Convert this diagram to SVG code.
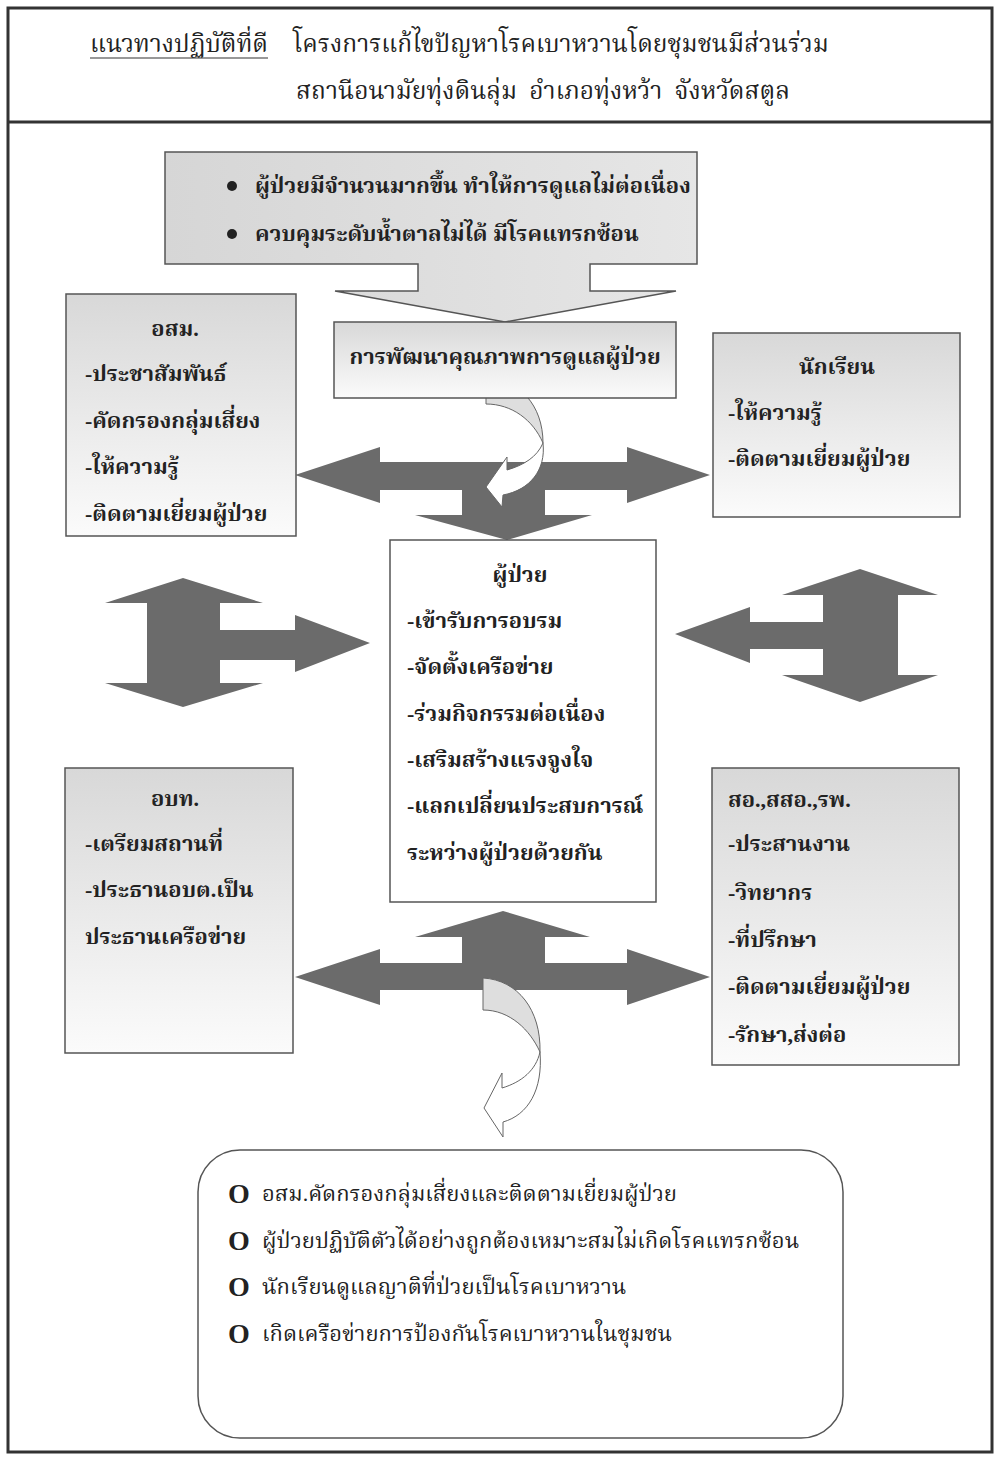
<svg xmlns="http://www.w3.org/2000/svg" width="1000" height="1461" viewBox="0 0 1000 1461">
  <style>
    .frame { fill: none; stroke: #333; stroke-width: 3; }
    .box { stroke: #555; stroke-width: 1.5; }
    .big { fill: #6b6b6b; }
    .curl-back { fill: #dedede; stroke: #666; stroke-width: 1; }
    .curl-front { fill: #ffffff; stroke: #666; stroke-width: 1; }
    text { font-family: "Liberation Serif", "Noto Serif Thai", "Noto Sans Thai", Garuda, serif; fill: #222; }
    .hd { font-size: 24.5px; }
    .b { font-size: 22px; font-weight: bold; }
    .r { font-size: 22px; }
    .mid { text-anchor: middle; }
    .oo { font-size: 28px; font-weight: bold; }
  </style>
  <defs>
    <linearGradient id="gTop" x1="0" y1="0" x2="1" y2="0">
      <stop offset="0" stop-color="#d6d6d6"/>
      <stop offset="1" stop-color="#e6e6e6"/>
    </linearGradient>
    <linearGradient id="gSide" x1="0" y1="0" x2="0" y2="1">
      <stop offset="0" stop-color="#d8d8d8"/>
      <stop offset="1" stop-color="#fbfbfb"/>
    </linearGradient>
  </defs>

  <rect width="1000" height="1461" fill="#ffffff"/>

  <!-- page frame and title band -->
  <rect class="frame" x="8" y="8" width="984" height="1444"/>
  <line class="frame" x1="8" y1="122" x2="992" y2="122"/>

  <g id="title">
    <text class="hd" x="90" y="52">แนวทางปฏิบัติที่ดี</text>
    <line x1="90" y1="58" x2="268" y2="58" stroke="#333" stroke-width="1.2"/>
    <text class="hd" x="293" y="52">โครงการแก้ไขปัญหาโรคเบาหวานโดยชุมชนมีส่วนร่วม</text>
    <text class="hd" x="296" y="99" xml:space="preserve">สถานีอนามัยทุ่งดินลุ่ม  อำเภอทุ่งหว้า  จังหวัดสตูล</text>
  </g>

  <!-- connectors: block arrows and curled arrows -->
  <g id="connectors">
    <!-- upper cross arrow -->
    <path class="big" d="M295,475 L380,447 L380,462 L627,462 L627,447 L710,475 L627,503 L627,490 L545,490 L545,515 L592,515 L507,540 L415,515 L462,515 L462,490 L380,490 L380,503 Z"/>
    <!-- left side arrow -->
    <path class="big" d="M183,578 L263,603 L220,603 L220,630 L295,630 L295,615 L370,643 L295,672 L295,660 L220,660 L220,683 L263,683 L183,707 L105,683 L147,683 L147,603 L105,603 Z"/>
    <!-- right side arrow -->
    <path class="big" d="M860,569 L938,595 L898,595 L898,675 L938,675 L860,702 L782,675 L823,675 L823,649 L750,649 L750,663 L675,634 L750,607 L750,622 L823,622 L823,595 L782,595 Z"/>
    <!-- lower cross arrow -->
    <path class="big" d="M295,977 L380,949 L380,963 L462,963 L462,937 L415,937 L503,911 L590,937 L545,937 L545,963 L627,963 L627,949 L710,977 L627,1005 L627,990 L380,990 L380,1005 Z"/>

    <!-- curled arrow below the quality box -->
    <path class="curl-back" d="M486,378 C519,379 543,405 543,443 C533,420 512,404 486,404 Z"/>
    <path class="curl-front" d="M543,443 C546,470 530,490 503,495 L502,507 L486,487 L507,457 L507,470 C524,465 537,457 543,443 Z"/>

    <!-- curled arrow toward the outcome box -->
    <path class="curl-back" d="M483,978 C518,980 541,1010 540,1052 C530,1030 510,1010 483,1010 Z"/>
    <path class="curl-front" d="M540,1052 C543,1090 528,1115 503,1122 L503,1137 L484,1108 L502,1073 L502,1088 C522,1082 536,1070 540,1052 Z"/>
  </g>

  <!-- problem statement -->
  <g id="problem">
    <path d="M165,152 L697,152 L697,264 L590,264 L590,291 L676,291 L505,322 L335,291 L418,291 L418,264 L165,264 Z" fill="url(#gTop)" stroke="#555" stroke-width="1.5"/>
    <circle cx="232" cy="186" r="5" fill="#222"/>
    <text class="b" x="255" y="193">ผู้ป่วยมีจำนวนมากขึ้น ทำให้การดูแลไม่ต่อเนื่อง</text>
    <circle cx="232" cy="234" r="5" fill="#222"/>
    <text class="b" x="255" y="241">ควบคุมระดับน้ำตาลไม่ได้ มีโรคแทรกซ้อน</text>
  </g>

  <g id="quality">
    <rect class="box" x="334" y="322" width="342" height="76" fill="url(#gSide)"/>
    <text class="b mid" x="505" y="364">การพัฒนาคุณภาพการดูแลผู้ป่วย</text>
  </g>

  <g id="osm">
    <rect class="box" x="66" y="294" width="230" height="242" fill="url(#gSide)"/>
    <text class="b mid" x="175" y="336">อสม.</text>
    <text class="b" x="85" y="381">-ประชาสัมพันธ์</text>
    <text class="b" x="85" y="428">-คัดกรองกลุ่มเสี่ยง</text>
    <text class="b" x="85" y="474">-ให้ความรู้</text>
    <text class="b" x="85" y="521">-ติดตามเยี่ยมผู้ป่วย</text>
  </g>

  <g id="students">
    <rect class="box" x="713" y="333" width="247" height="184" fill="url(#gSide)"/>
    <text class="b mid" x="837" y="374">นักเรียน</text>
    <text class="b" x="728" y="420">-ให้ความรู้</text>
    <text class="b" x="728" y="466">-ติดตามเยี่ยมผู้ป่วย</text>
  </g>

  <g id="patients">
    <rect class="box" x="390" y="540" width="266" height="362" fill="#ffffff"/>
    <text class="b mid" x="520" y="582">ผู้ป่วย</text>
    <text class="b" x="407" y="628">-เข้ารับการอบรม</text>
    <text class="b" x="407" y="674">-จัดตั้งเครือข่าย</text>
    <text class="b" x="407" y="721">-ร่วมกิจกรรมต่อเนื่อง</text>
    <text class="b" x="407" y="767">-เสริมสร้างแรงจูงใจ</text>
    <text class="b" x="407" y="813">-แลกเปลี่ยนประสบการณ์</text>
    <text class="b" x="407" y="860">ระหว่างผู้ป่วยด้วยกัน</text>
  </g>

  <g id="obt">
    <rect class="box" x="65" y="768" width="228" height="285" fill="url(#gSide)"/>
    <text class="b mid" x="175" y="806">อบท.</text>
    <text class="b" x="85" y="851">-เตรียมสถานที่</text>
    <text class="b" x="85" y="897">-ประธานอบต.เป็น</text>
    <text class="b" x="85" y="944">ประธานเครือข่าย</text>
  </g>

  <g id="health">
    <rect class="box" x="712" y="768" width="247" height="297" fill="url(#gSide)"/>
    <text class="b" x="728" y="807">สอ.,สสอ.,รพ.</text>
    <text class="b" x="728" y="851">-ประสานงาน</text>
    <text class="b" x="728" y="900">-วิทยากร</text>
    <text class="b" x="728" y="947">-ที่ปรึกษา</text>
    <text class="b" x="728" y="994">-ติดตามเยี่ยมผู้ป่วย</text>
    <text class="b" x="728" y="1042">-รักษา,ส่งต่อ</text>
  </g>

  <g id="outcomes">
    <rect x="198" y="1150" width="645" height="288" rx="42" ry="42" fill="#ffffff" stroke="#555" stroke-width="1.5"/>
    <text class="oo" x="228" y="1203">O</text>
    <text class="r" x="262" y="1201">อสม.คัดกรองกลุ่มเสี่ยงและติดตามเยี่ยมผู้ป่วย</text>
    <text class="oo" x="228" y="1250">O</text>
    <text class="r" x="262" y="1248">ผู้ป่วยปฏิบัติตัวได้อย่างถูกต้องเหมาะสมไม่เกิดโรคแทรกซ้อน</text>
    <text class="oo" x="228" y="1296">O</text>
    <text class="r" x="262" y="1294">นักเรียนดูแลญาติที่ป่วยเป็นโรคเบาหวาน</text>
    <text class="oo" x="228" y="1343">O</text>
    <text class="r" x="262" y="1341">เกิดเครือข่ายการป้องกันโรคเบาหวานในชุมชน</text>
  </g>
</svg>
